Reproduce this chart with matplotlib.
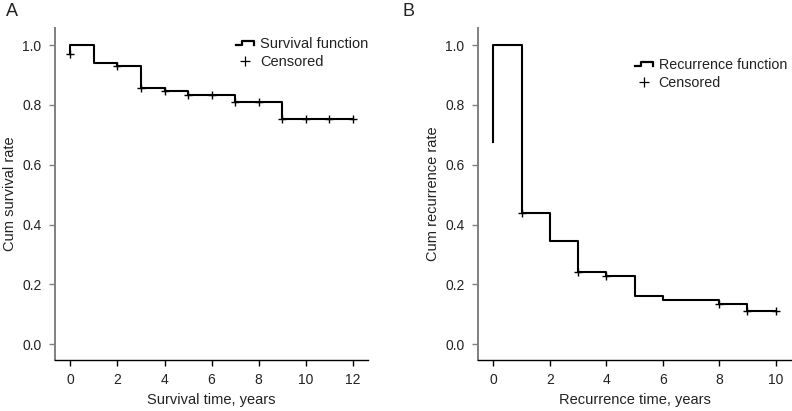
import matplotlib
matplotlib.use("Agg")
import matplotlib.pyplot as plt
from matplotlib.legend_handler import HandlerBase
from matplotlib.lines import Line2D

plt.rcParams['font.family'] = ['Liberation Sans', 'DejaVu Sans']
plt.rcParams['font.size'] = 10

# --- Panel A: survival ---
surv_time = [0, 0, 1, 2, 3, 4, 5, 7, 9, 12]
surv_rate = [0.97, 1.0, 0.939, 0.929, 0.857, 0.846, 0.833, 0.811, 0.753, 0.753]
surv_cens_time = [0, 2, 3, 4, 5, 6, 7, 8, 9, 10, 11, 12]
surv_cens_rate = [0.97, 0.929, 0.857, 0.846, 0.833, 0.833, 0.811, 0.811, 0.753, 0.753, 0.753, 0.753]

# --- Panel B: recurrence ---
rec_time = [0, 0, 1, 2, 3, 4, 5, 6, 8, 9, 10]
rec_rate = [0.675, 1.0, 0.439, 0.345, 0.240, 0.229, 0.161, 0.147, 0.134, 0.112, 0.112]
rec_cens_time = [1, 3, 4, 8, 9, 10]
rec_cens_rate = [0.439, 0.240, 0.229, 0.134, 0.112, 0.112]

TXT = "#222222"


class StepHandler(HandlerBase):
    # little step-shaped icon for the legend
    def create_artists(self, legend, orig_handle, xdescent, ydescent,
                       width, height, fontsize, trans):
        x0, x1 = -xdescent, -xdescent + width
        xm = x0 + 0.35 * width
        lo, hi = -ydescent + 0.25 * height, -ydescent + 0.7 * height
        line = Line2D([x0, xm, xm, x1, x1], [lo, lo, hi, hi, lo],
                      color="black", lw=1.6, transform=trans)
        return [line]


def style_axes(ax, xlim, xticks):
    ax.set_xlim(*xlim)
    ax.set_ylim(-0.053, 1.057)
    ax.set_xticks(xticks)
    ax.set_yticks([0.0, 0.2, 0.4, 0.6, 0.8, 1.0])
    ax.set_yticklabels(["0.0", "0.2", "0.4", "0.6", "0.8", "1.0"])
    for s in ["top", "right"]:
        ax.spines[s].set_visible(False)
    ax.spines["left"].set_color("#808080")
    ax.spines["left"].set_linewidth(1.4)
    ax.spines["bottom"].set_color("black")
    ax.spines["bottom"].set_linewidth(1.0)
    ax.tick_params(axis="y", colors="#808080", labelcolor=TXT, length=4.3, width=1,
                   labelsize=10, pad=5.5)
    ax.tick_params(axis="x", colors="black", labelcolor=TXT, length=4, width=1,
                   labelsize=10, pad=5.5)


fig = plt.figure(figsize=(7.92, 4.11), dpi=100)
axA = fig.add_axes([55 / 792, 1 - 360 / 411, 313 / 792, 332 / 411])
axB = fig.add_axes([478 / 792, 1 - 360 / 411, 313 / 792, 332 / 411])

# A
axA.step(surv_time, surv_rate, where="post", color="black", lw=1.5)
axA.plot(surv_cens_time, surv_cens_rate, ls="none", marker="+", color="black",
         ms=6, mew=1)
style_axes(axA, (-0.65, 12.64), range(0, 13, 2))
axA.set_xlabel("Survival time, years", color=TXT, labelpad=4.5, fontsize=10.5)
axA.set_ylabel("Cum survival rate", color=TXT, labelpad=3.5, fontsize=10.5)
hA = [Line2D([], [], color="black"),
      Line2D([], [], ls="none", marker="+", color="black", ms=7, mew=0.9)]
axA.legend(hA, ["Survival function", "Censored"], loc="upper left",
           bbox_to_anchor=(236 / 792, 1 - 37 / 411), bbox_transform=fig.transFigure,
           frameon=False, borderpad=0, borderaxespad=0, handlelength=1.25,
           handletextpad=0.4, labelspacing=0.25, fontsize=10.5,
           handler_map={hA[0]: StepHandler()}, labelcolor=TXT)

# B
axB.step(rec_time, rec_rate, where="post", color="black", lw=1.5)
axB.plot(rec_cens_time, rec_cens_rate, ls="none", marker="+", color="black",
         ms=6, mew=1)
style_axes(axB, (-0.54, 10.54), range(0, 11, 2))
axB.set_xlabel("Recurrence time, years", color=TXT, labelpad=4.5, fontsize=10.5)
axB.set_ylabel("Cum recurrence rate", color=TXT, labelpad=3.5, fontsize=10.5)
hB = [Line2D([], [], color="black"),
      Line2D([], [], ls="none", marker="+", color="black", ms=7, mew=0.9)]
axB.legend(hB, ["Recurrence function", "Censored"], loc="upper left",
           bbox_to_anchor=(635 / 792, 1 - 58 / 411), bbox_transform=fig.transFigure,
           frameon=False, borderpad=0, borderaxespad=0, handlelength=1.25,
           handletextpad=0.4, labelspacing=0.25, fontsize=10.3,
           handler_map={hB[0]: StepHandler()}, labelcolor=TXT)

fig.text(6 / 792, 1 - 12 / 411, "A", fontsize=13, va="center", ha="left", color=TXT)
fig.text(403 / 792, 1 - 12 / 411, "B", fontsize=13, va="center", ha="left", color=TXT)

fig.savefig("out.png", dpi=100)
